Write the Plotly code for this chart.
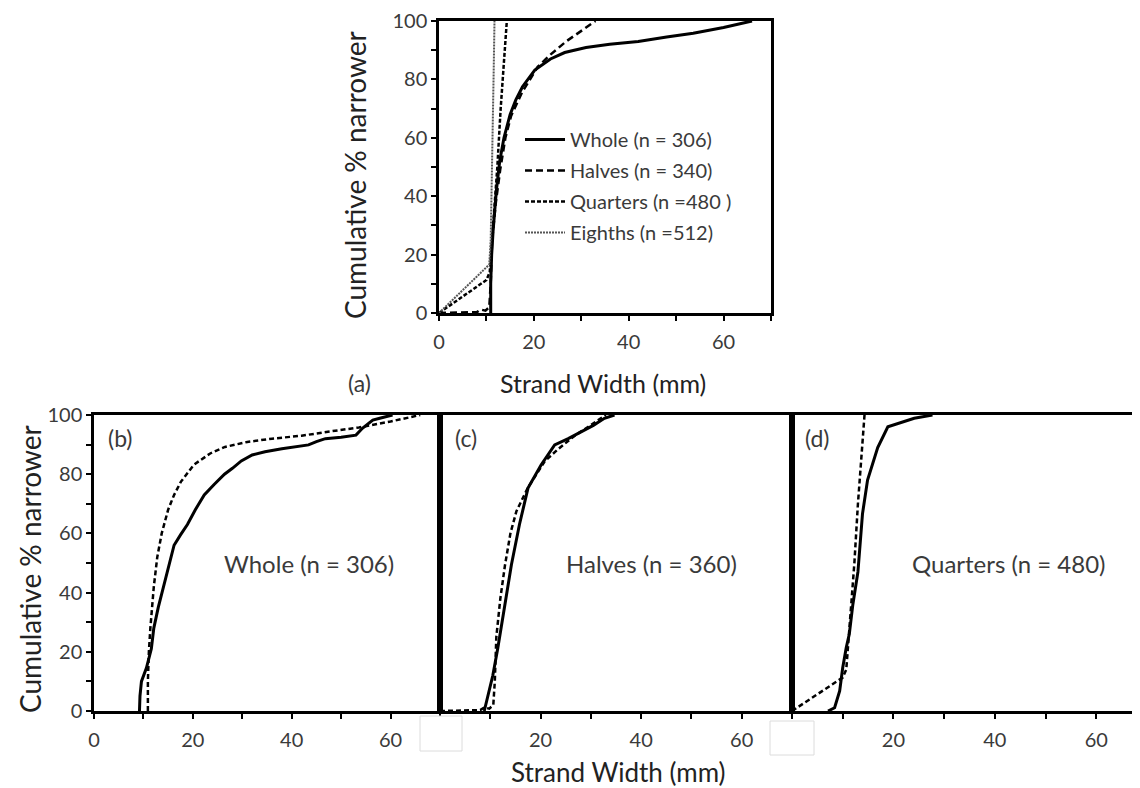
import plotly.graph_objects as go

# ---------------- data ----------------
# model curves (panel a, and dashed curves of panels b-d)
whole_model_x = [10.9, 10.9, 11.1, 11.4, 12.1, 12.8, 13.7, 15.0, 16.2, 17.6, 20.2, 23.5, 26.5, 31.0, 36.0, 42.0, 48.0, 53.6, 60.0, 66.0]
whole_model_y = [0, 10, 20, 28, 42, 52, 60, 68, 73, 77.5, 83.2, 87, 89.2, 90.9, 92, 93, 94.5, 95.8, 97.8, 100]

halves_model_x = [0, 8.0, 8.8, 9.8, 10.6, 10.9, 11.2, 12.0, 12.9, 14.0, 15.2, 17.5, 20.8, 23.5, 26.8, 30.0, 33.0]
halves_model_y = [0, 0.3, 1.2, 0.8, 2, 10, 25, 38, 49, 60, 67.5, 75.5, 84.3, 88.5, 93, 96.5, 100]

quarters_model_x = [0, 10.0, 10.7, 11.0, 11.3, 11.7, 12.3, 13.0, 13.7, 14.3]
quarters_model_y = [0, 11.3, 14, 21, 26, 36, 50, 70, 88, 100]

eighths_model_x = [0, 10.6, 10.9, 11.1, 11.3, 11.5, 11.7]
eighths_model_y = [0, 16.6, 25, 40, 60, 80, 100]

# observed data (solid curves of panels b-d)
whole_obs_x = [9.2, 9.3, 9.6, 10.6, 11.6, 12.1, 13.0, 14.2, 15.3, 16.2, 17.5, 18.9, 20.5, 22.3, 24.3, 26.4, 28.0,
               29.8, 32.0, 34.6, 38.0, 43.4, 45.0, 46.8, 50.0, 53.0, 54.3, 55.0, 56.4, 58.0, 60.4]
whole_obs_y = [0, 5, 10, 14.5, 21, 28, 35, 42.7, 50, 56, 59.5, 63, 68, 73, 76.5, 80, 82,
               84.5, 86.5, 87.6, 88.6, 89.9, 91, 92, 92.5, 93.2, 95.5, 96.5, 98.3, 99, 100]

halves_obs_x = [8.8, 9.5, 10.5, 11.5, 12.8, 14.2, 15.8, 17.5, 20.1, 22.8, 25.5, 28.1, 30.5, 32.7, 34.7]
halves_obs_y = [0, 5, 12, 21.3, 35, 49.4, 63, 75.3, 83.1, 89.9, 92, 94.4, 96.5, 98.9, 100]

quarters_obs_x = [7.1, 8.4, 9.4, 10.0, 10.7, 11.3, 12.0, 13.0, 13.9, 14.9, 16.9, 18.9, 24.1, 27.7]
quarters_obs_y = [0, 1.1, 6.8, 14.6, 21.4, 26, 36, 47, 66.6, 78, 89, 96, 98.9, 100]

legend_names = ["Whole (n = 306)", "Halves (n = 340)", "Quarters (n =480 )", "Eighths (n =512)"]
panel_labels = ["(b)", "(c)", "(d)"]
panel_titles = ["Whole (n = 306)", "Halves (n = 360)", "Quarters (n = 480)"]

x_tickvals = [0, 10, 20, 30, 40, 50, 60, 70]
x_ticktext = ["0", "", "20", "", "40", "", "60", ""]
x_ticktext_no0 = ["", "", "20", "", "40", "", "60", ""]
y_tickvals = [0, 10, 20, 30, 40, 50, 60, 70, 80, 90, 100]
y_ticktext = ["0", "", "20", "", "40", "", "60", "", "80", "", "100"]

# ---------------- figure ----------------
W, H = 1140, 788
FONT = "Lato"
TXT = "#3a3a3a"
TICK_SIZE = 20

def px(x):
    return x / W

def py(y):
    return 1 - y / H

fig = go.Figure()

BLACK = "black"
# panel (a)
fig.add_trace(go.Scatter(x=whole_model_x, y=whole_model_y, mode="lines", name=legend_names[0],
                         line=dict(color=BLACK, width=3), xaxis="x", yaxis="y", legendgroup="g1"))
fig.add_trace(go.Scatter(x=halves_model_x, y=halves_model_y, mode="lines", name=legend_names[1],
                         line=dict(color=BLACK, width=2.5, dash="7px,4px"), xaxis="x", yaxis="y", legendgroup="g2"))
fig.add_trace(go.Scatter(x=quarters_model_x, y=quarters_model_y, mode="lines", name=legend_names[2],
                         line=dict(color=BLACK, width=2.5, dash="4px,2px"), xaxis="x", yaxis="y", legendgroup="g3"))
fig.add_trace(go.Scatter(x=eighths_model_x, y=eighths_model_y, mode="lines", name=legend_names[3],
                         line=dict(color="#555", width=2, dash="2px,1px"), xaxis="x", yaxis="y", legendgroup="g4"))

# bottom panels
pairs = [(whole_obs_x, whole_obs_y, whole_model_x, whole_model_y, "x2", "y2"),
         (halves_obs_x, halves_obs_y, halves_model_x, halves_model_y, "x3", "y3"),
         (quarters_obs_x, quarters_obs_y, quarters_model_x, quarters_model_y, "x4", "y4")]
for ox, oy, mx, my, xa, ya in pairs:
    fig.add_trace(go.Scatter(x=mx, y=my, mode="lines", showlegend=False,
                             line=dict(color=BLACK, width=2.5, dash="5px,3px"), xaxis=xa, yaxis=ya))
    fig.add_trace(go.Scatter(x=ox, y=oy, mode="lines", showlegend=False,
                             line=dict(color=BLACK, width=3), xaxis=xa, yaxis=ya))

def xaxis(domain, anchor, ticktext):
    return dict(domain=domain, anchor=anchor, range=[0, 70], tickvals=x_tickvals, ticktext=ticktext,
                showline=True, linecolor=BLACK, linewidth=2.5, mirror=True, ticks="outside",
                ticklen=5, tickwidth=2, tickcolor=BLACK, showgrid=False, zeroline=False,
                ticklabelstandoff=4, automargin=False,
                tickfont=dict(family=FONT, size=TICK_SIZE, color=TXT), fixedrange=True)

def yaxis(domain, anchor, show_labels=True):
    return dict(domain=domain, anchor=anchor, range=[0, 100], tickvals=y_tickvals,
                ticktext=y_ticktext if show_labels else [""] * len(y_tickvals),
                showline=True, linecolor=BLACK, linewidth=2.5, mirror=True,
                ticks="outside" if show_labels else "", ticklen=5, tickwidth=2, tickcolor=BLACK,
                showgrid=False, zeroline=False, automargin=False,
                tickfont=dict(family=FONT, size=TICK_SIZE, color=TXT), fixedrange=True)

a_x = [px(431), px(763)]
a_y = [py(305), py(13)]
b_x = [px(86), px(432)]
c_x = [px(432), px(784)]
d_x = [px(784), px(1139)]
bot_y = [py(703), py(407)]

fig.update_layout(
    width=W, height=H, margin=dict(l=0, r=0, t=0, b=0, autoexpand=False),
    paper_bgcolor="white", plot_bgcolor="white",
    xaxis=xaxis(a_x, "y", x_ticktext), yaxis=yaxis(a_y, "x"),
    xaxis2=xaxis(b_x, "y2", x_ticktext), yaxis2=yaxis(bot_y, "x2"),
    xaxis3=xaxis(c_x, "y3", x_ticktext_no0), yaxis3=yaxis(bot_y, "x3", False),
    xaxis4=xaxis(d_x, "y4", x_ticktext_no0), yaxis4=yaxis(bot_y, "x4", False),
    showlegend=True,
    legend=dict(x=px(512), y=py(112), xanchor="left", yanchor="top", bgcolor="rgba(0,0,0,0)",
                font=dict(family=FONT, size=20, color=TXT), tracegroupgap=2, itemwidth=40),
)

ann = []

def add_text(text, x, y, size, color=TXT, angle=0):
    ann.append(dict(text=text, x=px(x), y=py(y), xref="paper", yref="paper",
                    xanchor="center", yanchor="middle", textangle=angle, showarrow=False,
                    font=dict(family=FONT, size=size, color=color)))

add_text("Cumulative % narrower", 347, 167, 28, "#222", -90)
add_text("Cumulative % narrower", 22, 561, 28, "#222", -90)
add_text("Strand Width (mm)", 595, 375, 25, "#222")
add_text("Strand Width (mm)", 610, 764, 26, "#222")
add_text("(a)", 351, 375, 23)
for lab, cx in zip(panel_labels, [112, 458, 809]):
    add_text(lab, cx, 430, 23)
for t, cx in zip(panel_titles, [301, 643, 1000]):
    add_text(t, cx, 555, 24)
fig.update_layout(annotations=ann)

# light boxes covering the zero labels of panels (c) and (d)
for x0, x1, y0, y1 in [(412, 454, 708, 743), (762, 806, 713, 747)]:
    fig.add_shape(type="rect", xref="paper", yref="paper", x0=px(x0), x1=px(x1), y0=py(y1), y1=py(y0),
                  line=dict(color="#dcdcdc", width=1), fillcolor="white", layer="above")

fig.write_html("out.html")
